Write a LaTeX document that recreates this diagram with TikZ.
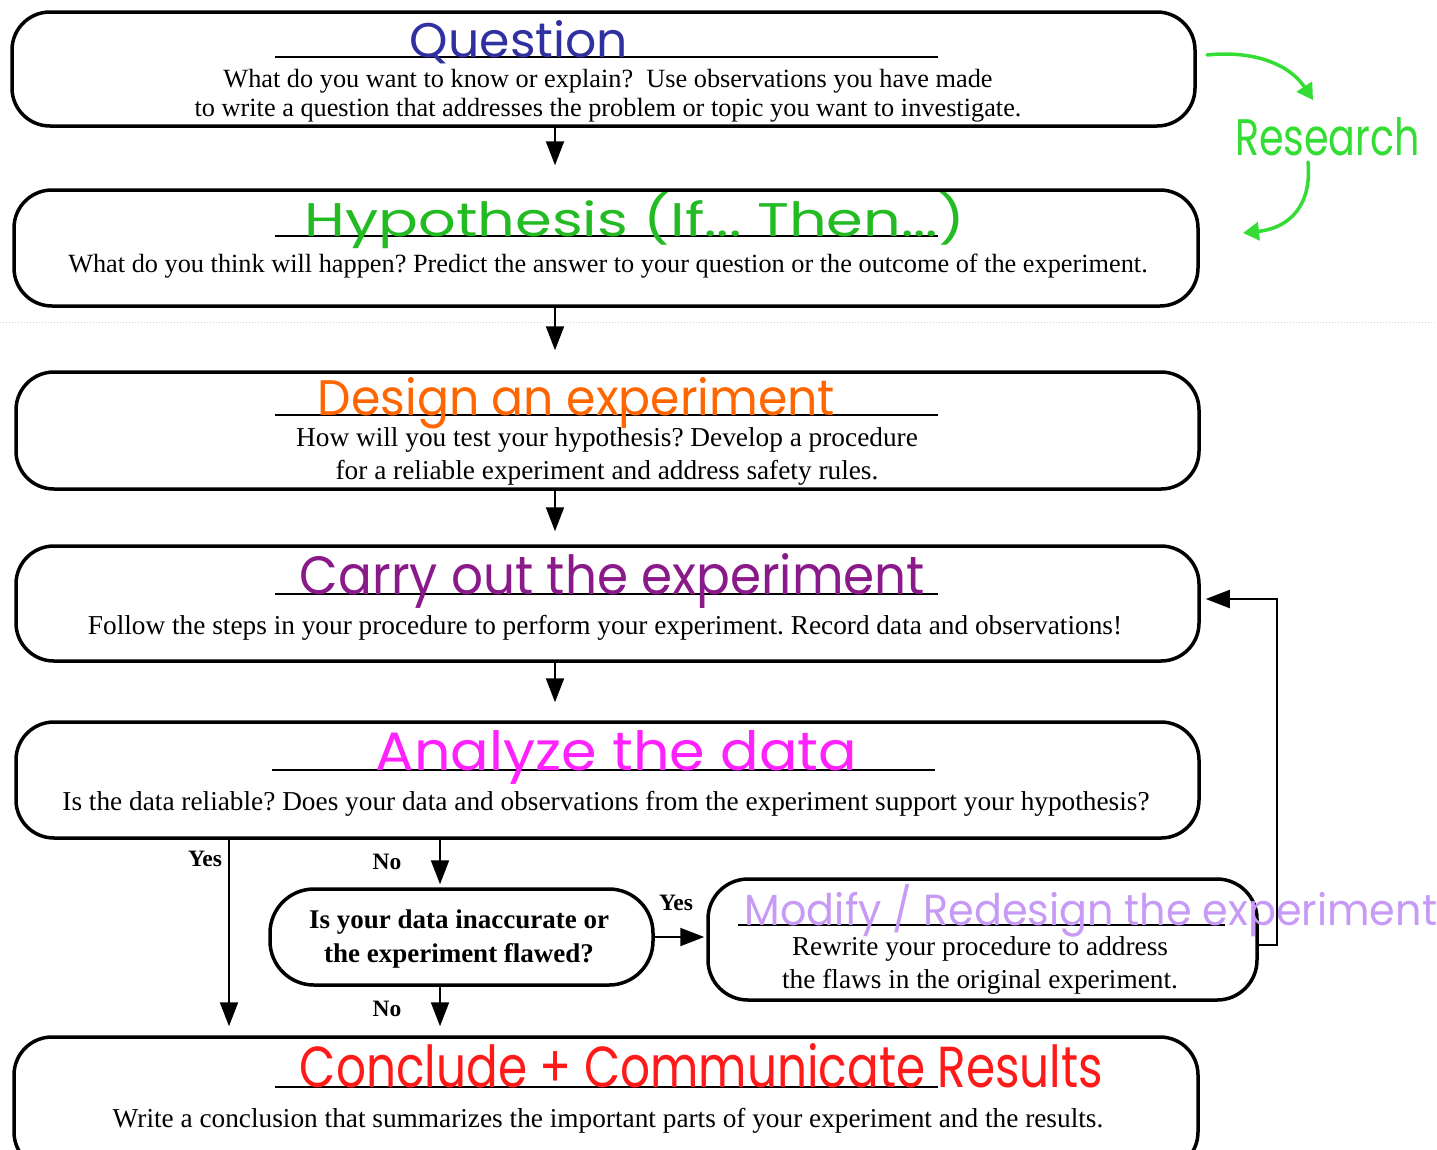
\documentclass[tikz,border=0pt]{standalone}
\usepackage{fontspec}
\setmainfont{Liberation Serif}
\newfontfamily\hand{Poppins}
\usetikzlibrary{arrows.meta}
\definecolor{qblue}{HTML}{3030A0}
\definecolor{hgreen}{HTML}{22BB22}
\definecolor{dorange}{HTML}{FF6600}
\definecolor{cpurple}{HTML}{8A1A8A}
\definecolor{amag}{HTML}{FF22FF}
\definecolor{mlav}{HTML}{C79AF5}
\definecolor{cred}{HTML}{FF1A1A}
\definecolor{rgreen}{HTML}{33DD33}
\begin{document}
\frenchspacing
\begin{tikzpicture}[x=1pt,y=-1pt,
  box/.style={draw, line width=3.5pt, rounded corners=38pt, inner sep=0pt},
  body/.style={font=\fontsize{27.3}{32}\selectfont, align=center, inner sep=0pt},
  conn/.style={line width=2pt, -{Triangle[length=24pt,width=18pt]}},
  lbl/.style={font=\bfseries\fontsize{23.5}{26}\selectfont, inner sep=0pt},
  uline/.style={line width=1.5pt},
  title/.style={font=\hand, inner sep=0pt, anchor=base},
  rarr/.style={rgreen, line width=3.5pt, line cap=round, -{Triangle[length=16pt,width=18pt]}}
]
\useasboundingbox (0,0) rectangle (1437,1149);
\clip (0,0) rectangle (1437,1149);
\fill[white] (0,0) rectangle (1437,1149);

% faint scan line
\draw[gray!35, dotted, line width=1pt] (0,322) -- (1437,322);

% boxes
\node[box, minimum width=1183pt, minimum height=114pt] (q) at (603.5,69) {};
\node[box, minimum width=1184pt, minimum height=116pt] (h) at (606,248) {};
\node[box, minimum width=1183pt, minimum height=117pt] (d) at (607.5,430.5) {};
\node[box, minimum width=1183pt, minimum height=115pt] (c) at (607.5,603.5) {};
\node[box, minimum width=1183pt, minimum height=116pt] (a) at (607.5,780) {};
\node[box, rounded corners=44pt, minimum width=383pt, minimum height=96pt] (dec) at (461.5,937) {};
\node[box, rounded corners=40pt, minimum width=549pt, minimum height=121pt] (mod) at (982.5,939.5) {};
\node[box, minimum width=1184pt, minimum height=133pt] (con) at (606,1103.5) {};

% underlines
\draw[uline] (275,57) -- (938,57);
\draw[uline] (275,236) -- (938,236);
\draw[uline] (275,415) -- (938,415);
\draw[uline] (275,594) -- (938,594);
\draw[uline] (272,770) -- (935,770);
\draw[uline] (738,925) -- (1225,925);
\draw[uline] (275,1087) -- (938,1087);

% body texts
\node[body, font=\fontsize{26.3}{29}\selectfont] (qb) at (608,96)
  {What do you want to know or explain?\ \ Use observations you have made\\to write a question that addresses the problem or topic you want to investigate.};
\node[body, font=\fontsize{26.3}{30}\selectfont] (hb) at (608,266)
  {What do you think will happen? Predict the answer to your question or the outcome of the experiment.};
\node[body, font=\fontsize{27.3}{33}\selectfont] (db) at (607,456)
  {How will you test your hypothesis? Develop a procedure\\for a reliable experiment and address safety rules.};
\node[body] (cb) at (605,628)
  {Follow the steps in your procedure to perform your experiment. Record data and observations!};
\node[body] (ab) at (606,804)
  {Is the data reliable? Does your data and observations from the experiment support your hypothesis?};
\node[body, font=\bfseries\fontsize{27}{34}\selectfont] (decb) at (459,939)
  {Is your data inaccurate or\\the experiment flawed?};
\node[body, font=\fontsize{27.3}{33}\selectfont] (modb) at (980,965)
  {Rewrite your procedure to address\\the flaws in the original experiment.};
\node[body] (conb) at (608,1121)
  {Write a conclusion that summarizes the important parts of your experiment and the results.};

% handwritten titles
\node[title, text=qblue] (qt) at (519,57) {\resizebox{218pt}{37pt}{Question}};
\node[title, text=hgreen] (ht) at (635,236) {\resizebox{660pt}{44pt}{Hypothesis (If... Then...)}};
\node[title, text=dorange] (dt) at (576.5,415) {\resizebox{517pt}{38pt}{Design an experiment}};
\node[title, text=cpurple] (ct) at (612.5,594) {\resizebox{625pt}{41pt}{Carry out the experiment}};
\node[title, text=amag] (at) at (616.5,770) {\resizebox{481pt}{40pt}{Analyze the data}};
\node[title, text=mlav] (mt) at (1091,925) {\resizebox{692pt}{41pt}{Modify / Redesign the experiment}};
\node[title, text=cred] (cont) at (701.5,1087) {\resizebox{803pt}{44pt}{Conclude + Communicate Results}};
\node[title, text=rgreen] (rt) at (1327.5,155) {\resizebox{185pt}{38pt}{Research}};

% connectors
\draw[conn, shorten >=23pt] (555,0 |- q.south) -- (555,0 |- h.north);
\draw[conn, shorten >=20pt] (555,0 |- h.south) -- (555,0 |- d.north);
\draw[conn, shorten >=13pt] (555,0 |- d.south) -- (555,0 |- c.north);
\draw[conn, shorten >=18pt] (555,0 |- c.south) -- (555,0 |- a.north);
\draw[conn, shorten >=9pt] (229,0 |- a.south) -- (229,0 |- con.north);
\draw[conn, shorten >=3pt] (440,0 |- a.south) -- (440,0 |- dec.north);
\draw[conn, shorten >=2pt] (dec.east) -- (dec.east -| mod.west);
\draw[conn, shorten >=9pt] (440,0 |- dec.south) -- (440,0 |- con.north);
\draw[conn, shorten >=5pt] ([yshift=-5.5pt]mod.east) -- ++(18,0) |- ([yshift=4.5pt]c.east);

% labels
\node[lbl] (y1) at (205,859) {Yes};
\node[lbl] (n1) at (387,862) {No};
\node[lbl] (y2) at (676,903) {Yes};
\node[lbl] (n2) at (387,1009) {No};

% research arrows
\coordinate (r1s) at (1207,55);
\coordinate (r1e) at (1313,100);
\coordinate (r2s) at (1308,162);
\coordinate (r2e) at (1243,233);
\draw[rarr] (r1s) .. controls (1255,50) and (1290,65) .. (r1e);
\draw[rarr] (r2s) .. controls (1312,205) and (1290,228) .. (r2e);
\end{tikzpicture}
\end{document}
